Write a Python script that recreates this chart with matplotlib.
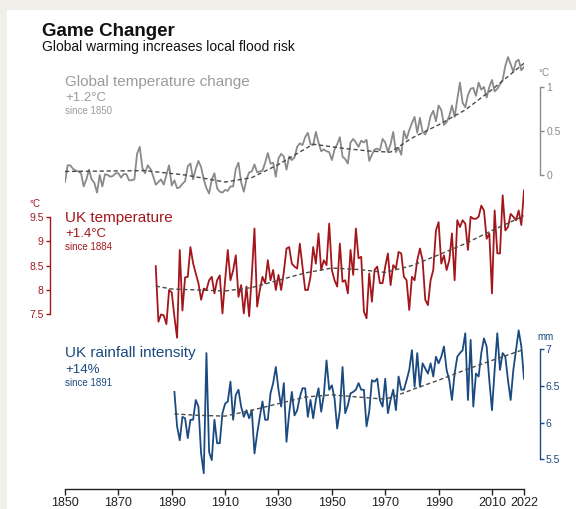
import numpy as np
import matplotlib
matplotlib.use("Agg")
import matplotlib.pyplot as plt
from matplotlib.patches import Rectangle

plt.rcParams['font.family'] = ['Liberation Sans', 'DejaVu Sans']

# ---- data ----
global_years = list(range(1850, 2023))
global_temp = [
    -0.08, 0.11, 0.11, 0.07, 0.05, 0.04, 0.02, -0.13, -0.05, 0.06,
    -0.05, -0.09, -0.20, 0.00, -0.13, 0.01, 0.00, -0.02, -0.01, 0.02,
    0.02, -0.03, 0.01, 0.01, -0.06, -0.06, -0.05, 0.24, 0.32, 0.08,
    0.02, 0.11, 0.07, -0.01, -0.11, -0.08, -0.05, -0.11, 0.00, 0.11,
    -0.12, -0.06, -0.15, -0.14, -0.10, -0.07, 0.10, 0.13, -0.05, 0.07,
    0.16, 0.09, -0.05, -0.15, -0.21, -0.05, 0.02, -0.15, -0.19, -0.20,
    -0.17, -0.18, -0.13, -0.13, 0.07, 0.14, -0.08, -0.19, -0.05, 0.03,
    0.04, 0.12, 0.03, 0.04, 0.05, 0.14, 0.25, 0.13, 0.14, -0.02,
    0.19, 0.24, 0.21, 0.06, 0.21, 0.17, 0.20, 0.32, 0.36, 0.34,
    0.43, 0.48, 0.35, 0.34, 0.49, 0.37, 0.27, 0.29, 0.27, 0.26,
    0.17, 0.29, 0.35, 0.43, 0.21, 0.18, 0.13, 0.37, 0.41, 0.37,
    0.32, 0.39, 0.37, 0.40, 0.16, 0.23, 0.29, 0.30, 0.28, 0.41,
    0.37, 0.26, 0.35, 0.49, 0.26, 0.31, 0.23, 0.50, 0.41, 0.51,
    0.59, 0.66, 0.48, 0.65, 0.49, 0.46, 0.53, 0.67, 0.73, 0.61,
    0.79, 0.74, 0.57, 0.60, 0.67, 0.79, 0.66, 0.86, 1.05, 0.82,
    0.77, 0.91, 0.98, 0.99, 0.90, 1.05, 0.97, 1.00, 0.88, 1.00,
    1.08, 0.95, 0.98, 1.03, 1.08, 1.24, 1.34, 1.26, 1.17, 1.29,
    1.31, 1.19, 1.23,
]
global_trend_years = [1850, 1880, 1895, 1910, 1920, 1930, 1943, 1955, 1965, 1972, 1980, 1990, 2000, 2010, 2022]
global_trend = [0.04, 0.05, 0.00, -0.08, -0.03, 0.12, 0.35, 0.30, 0.27, 0.26, 0.42, 0.57, 0.74, 0.97, 1.27]

uk_years = list(range(1884, 2023))
uk_temp = [
    8.49, 7.35, 7.50, 7.48, 7.30, 8.00, 7.95, 7.45, 7.02, 8.82,
    7.58, 8.26, 8.27, 8.88, 8.55, 8.34, 8.14, 7.80, 8.03, 8.00,
    8.20, 8.27, 7.93, 8.20, 8.30, 7.52, 8.20, 8.82, 8.20, 8.40,
    8.71, 7.86, 8.10, 7.52, 8.07, 7.46, 8.30, 9.26, 7.66, 8.00,
    8.27, 8.14, 8.61, 8.20, 8.41, 8.00, 8.31, 8.00, 8.37, 8.85,
    8.88, 8.54, 8.48, 8.44, 8.95, 8.48, 8.00, 8.00, 8.27, 8.88,
    8.54, 9.16, 8.41, 8.61, 8.51, 9.36, 8.41, 8.20, 8.07, 8.95,
    8.17, 8.20, 7.93, 8.82, 8.31, 9.26, 8.65, 8.68, 7.56, 7.42,
    8.34, 7.76, 8.41, 8.48, 8.14, 8.14, 8.48, 8.75, 8.10, 8.51,
    8.44, 8.78, 8.75, 8.27, 8.20, 7.59, 8.27, 8.20, 8.61, 8.85,
    8.61, 7.80, 7.69, 8.20, 8.41, 9.22, 9.39, 8.54, 8.71, 8.41,
    8.61, 9.16, 8.20, 9.43, 9.29, 9.43, 9.36, 8.82, 9.50, 9.46,
    9.46, 9.50, 9.73, 9.63, 9.05, 9.16, 7.93, 9.63, 8.75, 8.75,
    9.94, 9.22, 9.29, 9.56, 9.50, 9.43, 9.63, 9.33, 10.04,
]
uk_trend_years = [1884, 1890, 1900, 1910, 1920, 1930, 1940, 1950, 1960, 1970, 1980, 1990, 2000, 2010, 2022]
uk_trend = [8.08, 8.02, 8.00, 7.98, 8.05, 8.20, 8.35, 8.45, 8.42, 8.36, 8.50, 8.72, 8.95, 9.22, 9.52]

rain_years = list(range(1891, 2023))
rain = [
    6.42, 5.95, 5.76, 6.08, 6.06, 5.79, 6.04, 6.04, 6.31, 6.22,
    5.58, 5.31, 6.95, 5.60, 5.49, 6.04, 5.72, 5.72, 6.13, 6.26,
    6.29, 6.56, 6.04, 6.38, 6.45, 6.22, 6.08, 6.17, 6.06, 6.17,
    5.58, 5.85, 6.08, 6.29, 6.04, 6.04, 6.40, 6.54, 6.76, 6.45,
    6.22, 6.54, 5.74, 6.13, 6.42, 6.10, 6.17, 6.35, 6.47, 6.47,
    6.08, 6.31, 6.06, 6.31, 6.47, 6.15, 6.38, 6.85, 6.45, 6.51,
    6.33, 5.92, 6.17, 6.76, 6.13, 6.24, 6.40, 6.42, 6.45, 6.54,
    6.45, 6.45, 5.95, 6.15, 6.58, 6.56, 6.60, 6.31, 6.22, 6.60,
    6.13, 6.31, 6.45, 6.17, 6.63, 6.45, 6.45, 6.58, 6.72, 6.99,
    6.49, 6.95, 6.49, 6.81, 6.74, 6.67, 6.81, 6.63, 6.90, 6.81,
    6.90, 7.04, 6.72, 6.58, 6.31, 6.67, 6.90, 6.95, 6.99, 7.22,
    6.31, 7.13, 6.22, 6.67, 6.63, 6.95, 7.15, 7.04, 6.58, 6.17,
    6.72, 7.22, 6.72, 6.95, 6.90, 6.58, 6.31, 6.72, 6.99, 7.26,
    7.04, 6.60,
]
rain_trend_years = [1891, 1900, 1910, 1920, 1930, 1940, 1950, 1960, 1970, 1975, 1980, 1990, 2000, 2010, 2022]
rain_trend = [6.12, 6.10, 6.09, 6.17, 6.26, 6.35, 6.38, 6.35, 6.32, 6.38, 6.45, 6.58, 6.72, 6.85, 7.00]

year_ticks = [1850, 1870, 1890, 1910, 1930, 1950, 1970, 1990, 2010, 2022]

# ---- colours / layout (pixels of a 576x509 image) ----
GREY_LINE = '#8a8a8a'
GREY_TEXT = '#9b9b9b'
RED = '#a3161c'
BLUE = '#1a4a80'
TREND = '#4a4a4a'

W, H = 576, 509
X_LEFT, X_RIGHT = 65, 524

fig = plt.figure(figsize=(W / 100, H / 100), dpi=100)
fig.patch.set_facecolor('#f1efea')
# white card inside the beige frame
fig.patches.append(Rectangle((7 / W, 0), 1, 1 - 10 / H, transform=fig.transFigure,
                             facecolor='white', edgecolor='none', zorder=-10))


def fx(px):
    return px / W


def fy(py):
    return 1 - py / H


def panel(top, bottom, ref_px, ref_val, px_per_unit):
    ax = fig.add_axes([fx(X_LEFT), fy(bottom), (X_RIGHT - X_LEFT) / W, (bottom - top) / H])
    ax.set_xlim(1850, 2022)
    ax.set_ylim(ref_val - (bottom - ref_px) / px_per_unit,
                ref_val + (ref_px - top) / px_per_unit)
    ax.patch.set_alpha(0)
    for s in ax.spines.values():
        s.set_visible(False)
    ax.set_xticks([])
    return ax


def side_axis(ax, side, px, color, bounds, ticks, labels):
    frac = (px - X_LEFT) / (X_RIGHT - X_LEFT)
    sp = ax.spines[side]
    sp.set_visible(True)
    sp.set_position(('axes', frac))
    sp.set_bounds(*bounds)
    sp.set_color(color)
    sp.set_linewidth(1.0)
    if side == 'right':
        ax.yaxis.tick_right()
    else:
        ax.yaxis.tick_left()
    ax.set_yticks(ticks)
    ax.set_yticklabels(labels)
    ax.tick_params(axis='y', colors=color, labelsize=7.5, length=3, width=1.0, pad=1.5)


# global temperature
ax_g = panel(40, 200, 175, 0.0, 88)
ax_g.plot(global_years, global_temp, color=GREY_LINE, lw=1.3, zorder=3)
ax_g.plot(global_trend_years, global_trend, color=TREND, lw=1.0, ls=(0, (3, 2)), zorder=4)
side_axis(ax_g, 'right', 540, GREY_LINE, (0, 1), [0, 0.5, 1], ['0', '0.5', '1'])

# UK temperature
ax_t = panel(180, 345, 290, 8.0, 48.8)
ax_t.plot(uk_years, uk_temp, color=RED, lw=1.3, zorder=3)
ax_t.plot(uk_trend_years, uk_trend, color=TREND, lw=1.0, ls=(0, (3, 2)), zorder=4)
side_axis(ax_t, 'left', 50, RED, (7.5, 9.5), [7.5, 8, 8.5, 9, 9.5],
          ['7.5', '8', '8.5', '9', '9.5'])

# UK rainfall intensity + shared year axis
ax_r = panel(320, 489, 422.7, 6.0, 73.3)
ax_r.plot(rain_years, rain, color=BLUE, lw=1.3, zorder=3)
ax_r.plot(rain_trend_years, rain_trend, color=TREND, lw=1.0, ls=(0, (3, 2)), zorder=4)
side_axis(ax_r, 'right', 539.5, BLUE, (5.5, 7), [5.5, 6, 6.5, 7], ['5.5', '6', '6.5', '7'])
ax_r.spines['bottom'].set_visible(True)
ax_r.spines['bottom'].set_bounds(1850, 2022)
ax_r.spines['bottom'].set_color('#222222')
ax_r.spines['bottom'].set_linewidth(1.0)
ax_r.set_xticks(year_ticks)
ax_r.set_xticklabels([str(y) for y in year_ticks])
ax_r.tick_params(axis='x', colors='#222222', labelsize=9, length=4, width=1.0, pad=2)

# ---- text ----
fig.text(fx(42), fy(31), 'Game Changer', fontsize=13.5, fontweight='bold',
         color='#111111', va='center', ha='left')
fig.text(fx(42), fy(47), 'Global warming increases local flood risk', fontsize=10,
         color='#111111', va='center', ha='left')

blocks = [
    ('Global temperature change', '+1.2°C', 'since 1850', GREY_TEXT, 81.7),
    ('UK temperature', '+1.4°C', 'since 1884', RED, 217.7),
    ('UK rainfall intensity', '+14%', 'since 1891', BLUE, 353.3),
]
for title, change, since, color, y in blocks:
    fig.text(fx(65), fy(y), title, fontsize=11, color=color, va='center', ha='left')
    fig.text(fx(65), fy(y + 16.6), change, fontsize=9.5, color=color, va='center', ha='left')
    fig.text(fx(65), fy(y + 29.5), since, fontsize=7, color=color, va='center', ha='left')

fig.text(fx(544), fy(73), '°C', fontsize=7, color=GREY_LINE, va='center', ha='center')
fig.text(fx(35), fy(204), '°C', fontsize=7, color=RED, va='center', ha='center')
fig.text(fx(546), fy(336.7), 'mm', fontsize=7, color=BLUE, va='center', ha='center')

fig.savefig('out.png', dpi=100, facecolor=fig.get_facecolor())
